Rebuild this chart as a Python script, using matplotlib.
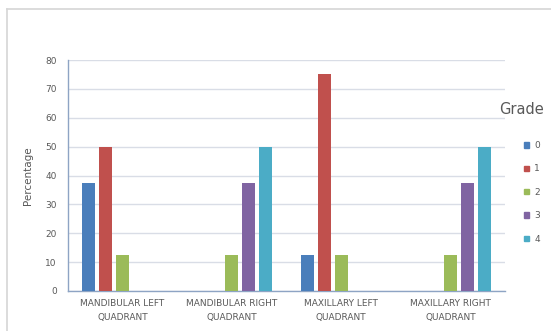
import matplotlib.pyplot as plt
import numpy as np
from matplotlib.lines import Line2D
from matplotlib.patches import Patch

# Data
quadrants = ['MANDIBULAR LEFT\nQUADRANT', 'MANDIBULAR RIGHT\nQUADRANT',
             'MAXILLARY LEFT\nQUADRANT', 'MAXILLARY RIGHT\nQUADRANT']
grades = ['0', '1', '2', '3', '4']
grade0 = [37.5, 0, 12.5, 0]
grade1 = [50, 0, 75, 0]
grade2 = [12.5, 12.5, 12.5, 12.5]
grade3 = [0, 37.5, 0, 37.5]
grade4 = [0, 50, 0, 50]
colors = ['#4a7ebb', '#c0504d', '#9bbb59', '#8064a2', '#4bacc6']

series = [grade0, grade1, grade2, grade3, grade4]
text_col = '#595959'

fig = plt.figure(figsize=(5.51, 3.31), dpi=100)
ax = fig.add_axes([68/551, 1 - 291/331, 437/551, 231/331])

# outer chart border (only left and top edges visible in the crop)
W, H = 551, 331
fig.lines.append(Line2D([6.5/W, 6.5/W], [0, 1 - 8.5/H], transform=fig.transFigure, color='#d6d6d6', lw=1.2))
fig.lines.append(Line2D([6.5/W, 1], [1 - 8.5/H, 1 - 8.5/H], transform=fig.transFigure, color='#d6d6d6', lw=1.2))

x = np.arange(len(quadrants))
step = 0.155
w = 0.12
for i, (vals, c) in enumerate(zip(series, colors)):
    ax.bar(x + (i - 2) * step, vals, w, color=c, zorder=3, label=grades[i])

ax.set_xlim(-0.5, 3.5)
ax.set_ylim(0, 80)
ax.set_yticks(range(0, 81, 10))
ax.set_xticks(x)
ax.set_xticklabels(quadrants, fontsize=6.5, color=text_col, linespacing=1.6)
ax.tick_params(axis='y', labelsize=6.5, colors=text_col, length=0, pad=8)
ax.tick_params(axis='x', length=0, pad=6)
ax.yaxis.grid(True, color='#d9dde6', lw=1, zorder=0)
for s in ['top', 'right']:
    ax.spines[s].set_visible(False)
for s in ['left', 'bottom']:
    ax.spines[s].set_color('#8ea4c4')
    ax.spines[s].set_linewidth(1)
ax.set_ylabel('Percentage', fontsize=7.5, color=text_col, labelpad=9)

fig.text(522/551, 1 - 109/331, 'Grade', fontsize=10.5, color=text_col, ha='center', va='center')
handles = [Patch(color=c) for c in colors]
fig.legend(handles, grades, loc='upper left', bbox_to_anchor=(524/551, 1 - 141/331), frameon=False,
           fontsize=6.5, labelcolor=text_col, handlelength=0.55, handleheight=0.55, handletextpad=0.6,
           labelspacing=1.6, borderaxespad=0, borderpad=0)

fig.savefig('out.png', dpi=100)
